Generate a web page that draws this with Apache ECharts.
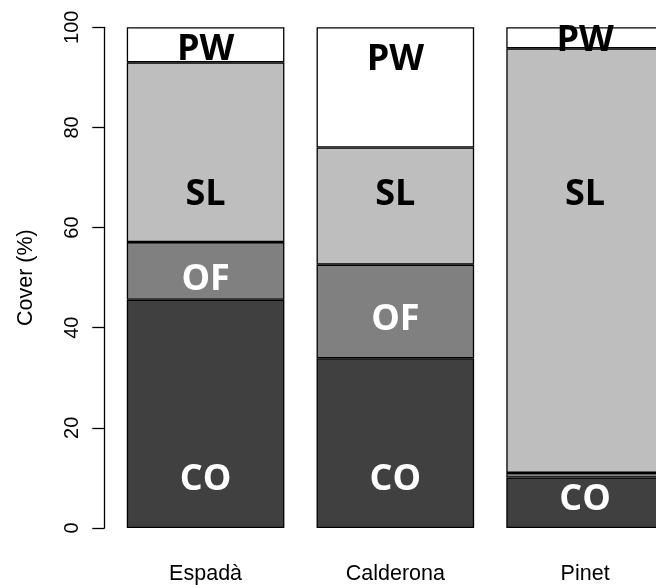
<!DOCTYPE html>
<html><head><meta charset="utf-8">
<script src="https://cdn.jsdelivr.net/npm/echarts@6/dist/echarts.min.js"></script>
<style>html,body{margin:0;padding:0;background:#fff;overflow:hidden}#c{width:680px;height:585px}</style>
</head><body><div id="c"></div>
<script>
const categories = ['Espadà', 'Calderona', 'Pinet'];
const CO = [45.6, 33.9, 10.1];
const OF = [11.5, 18.7, 0.9];
const SL = [35.9, 23.4, 84.8];
const PW = [7.0, 24.0, 4.2];
const yTicks = [0, 20, 40, 60, 80, 100];
// text labels (segment name, y position in % units per site)
const labelCO = [9.6, 9.6, 5.6];
const labelOF = [49.6, 41.6, null];
const labelSL = [66.6, 66.6, 66.6];
const labelPW = [95.5, 93.6, 97.4];

const colors = {CO: '#404040', OF: '#808080', SL: '#bebebe', PW: '#ffffff'};
const textColors = {CO: '#ffffff', OF: '#ffffff', SL: '#000000', PW: '#000000'};

const chart = echarts.init(document.getElementById('c'), null, {renderer: 'canvas'});
const barSeries = [['CO', CO], ['OF', OF], ['SL', SL], ['PW', PW]].map(([n, d]) => ({
  name: n, type: 'bar', stack: 'total', data: d, barWidth: 157.6,
  itemStyle: {color: colors[n], borderColor: '#000', borderWidth: 1.3},
  emphasis: {disabled: true}, silent: true
}));
const labelSeries = [['CO', labelCO], ['OF', labelOF], ['SL', labelSL], ['PW', labelPW]].map(([n, d]) => ({
  name: n + '_label', type: 'scatter', symbolSize: 0, silent: true, z: 10,
  itemStyle: {opacity: 1},
  emphasis: {disabled: true},
  data: d.map((v, i) => v == null ? null : [categories[i], v]),
  label: {show: true, position: 'inside', formatter: n, color: textColors[n], opacity: 1,
    textBorderWidth: 0, fontFamily: 'Open Sans', fontWeight: 'bold', fontSize: 36}
}));

chart.setOption({
  animation: false,
  grid: {left: 110.7, right: 0, top: 27.3, bottom: 54.3, containLabel: false},
  xAxis: {
    type: 'category', data: categories,
    axisLine: {show: false}, axisTick: {show: false},
    axisLabel: {margin: 35, color: '#000', fontFamily: 'Liberation Sans', fontSize: 21.5}
  },
  yAxis: {
    type: 'value', min: 0, max: 100, interval: 20, offset: 6.4,
    name: 'Cover (%)', nameLocation: 'middle', nameRotate: 90, nameGap: 67,
    nameTextStyle: {color: '#000', fontFamily: 'Liberation Sans', fontSize: 21.5},
    axisLine: {show: true, lineStyle: {color: '#000', width: 1.3}},
    axisTick: {show: true, length: 12, lineStyle: {color: '#000', width: 1.3}},
    axisLabel: {rotate: 90, margin: 22, color: '#000', fontFamily: 'Liberation Sans', fontSize: 20,
      formatter: v => yTicks.includes(v) ? String(v) : ''},
    splitLine: {show: false}
  },
  series: [...barSeries, ...labelSeries]
});
</script></body></html>
